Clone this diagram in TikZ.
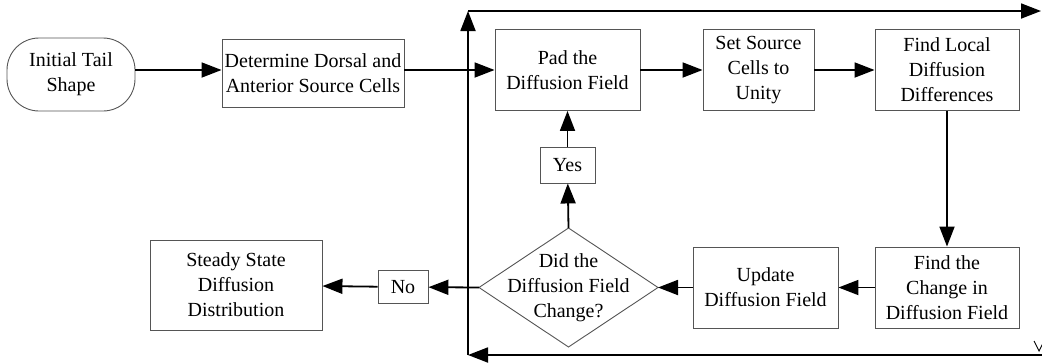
\documentclass[tikz,border=0pt]{standalone}
\usepackage{fontspec}
\setmainfont{Liberation Serif}
\usetikzlibrary{arrows.meta}
\definecolor{boxline}{HTML}{555555}
\begin{document}
\begin{tikzpicture}[x=1pt,y=-1pt,
  every node/.style={font=\fontsize{20}{25}\selectfont, align=center, inner sep=0pt},
  proc/.style={draw=boxline, line width=0.9pt, fill=white, rectangle},
  term/.style={draw=boxline, line width=0.9pt, rounded corners=32pt},
  decide/.style={draw=boxline, line width=0.9pt},
  flow/.style={line width=1.8pt, -{Triangle[length=20pt,width=15pt]}}]
\useasboundingbox (0,0) rectangle (1042,362);

% outer loop lines
\coordinate (lb) at (468,355);
\coordinate (lt) at (468,11);
\coordinate (rt) at (1041,11);
\coordinate (rb) at (1042,355);
\draw[flow] (rb) -- (lb);
\draw[flow] (lb) -- (lt);
\draw[flow] (lt) -- (rt);
\draw[line width=0.9pt] (1034,341) -- (1039,351) -- (1044,341);

% process steps
\node[term, minimum width=128pt, minimum height=73pt] (init) at (71,74.5) {Initial Tail\\Shape};
\node[proc, minimum width=182pt, minimum height=68pt] (det) at (313,73.5) {Determine Dorsal and\\Anterior Source Cells};
\node[proc, minimum width=145pt, minimum height=81pt] (pad) at (567.5,70) {Pad the\\Diffusion Field};
\node[proc, minimum width=111pt, minimum height=81pt] (set) at (758.5,70) {Set Source\\Cells to\\Unity};
\node[proc, minimum width=144pt, minimum height=81pt] (loc) at (947,70) {Find Local\\Diffusion\\Differences};
\node[proc, minimum width=144pt, minimum height=81pt] (chg) at (947,287.5) {Find the\\Change in\\Diffusion Field};
\node[proc, minimum width=145pt, minimum height=81pt] (upd) at (765.5,287.5) {Update\\Diffusion Field};

% decision diamond, drawn from its four corners
\coordinate (dec-l) at (479,287.5);
\coordinate (dec-r) at (658,287.5);
\coordinate (dec-t) at (568.5,228);
\coordinate (dec-b) at (568.5,347);
\fill[white] (dec-l) -- (dec-t) -- (dec-r) -- (dec-b) -- cycle;
\draw[decide] (dec-l) -- (dec-t) -- (dec-r) -- (dec-b) -- cycle;
\node (dec) at (568.5,287.5) {Did the\\Diffusion Field\\Change?};

\node[proc, minimum width=55pt, minimum height=36pt] (yes) at (567.5,165) {Yes};
\node[proc, minimum width=50pt, minimum height=33pt] (no) at (403,287) {No};
\node[proc, minimum width=172pt, minimum height=90pt] (ss) at (236,285) {Steady State\\Diffusion\\Distribution};

% connectors
\draw[flow] (init.east |- 0,70) -- (det.west |- 0,70);
\draw[flow] (det.east |- 0,70) -- (pad.west |- 0,70);
\draw[flow] (pad) -- (set);
\draw[flow] (set) -- (loc);
\draw[flow] (loc) -- (chg);
\draw[flow] (chg) -- (upd);
\draw[flow] (upd) -- (dec-r);
\draw[flow] (dec-t) -- (yes);
\draw[flow] (yes) -- (pad);
\draw[flow] (dec-l) -- (no);
\draw[flow] (no) -- (ss);
\end{tikzpicture}
\end{document}
